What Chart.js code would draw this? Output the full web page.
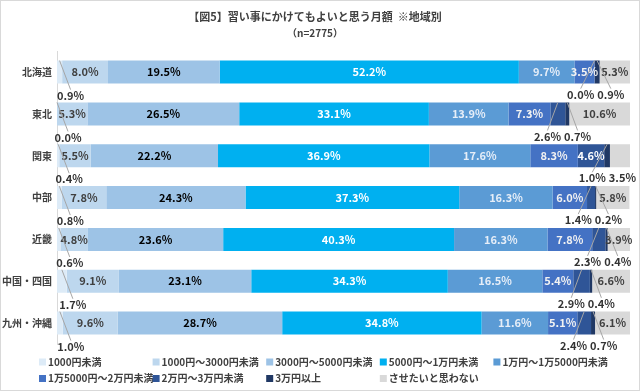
<!DOCTYPE html>
<html>
<head>
<meta charset="utf-8">
<script src="https://cdn.jsdelivr.net/npm/chart.js@4.4.1/dist/chart.umd.min.js"></script>
<style>
  body { margin: 0; background: #fff; }
  #wrap { width: 640px; height: 391px; }
</style>
</head>
<body>
<div id="wrap"><canvas id="chart"></canvas></div>
<script>
// regions (y axis)
var regions = ['北海道', '東北', '関東', '中部', '近畿', '中国・四国', '九州・沖縄'];

// answer categories
var seriesNames = ['1000円未満', '1000円～3000円未満', '3000円～5000円未満', '5000円～1万円未満',
  '1万円～1万5000円未満', '1万5000円～2万円未満', '2万円～3万円未満', '3万円以上', 'させたいと思わない'];

// percentages per region
var under1000 = [0.9, 0.0, 0.4, 0.8, 0.6, 1.7, 1.0];
var from1000to3000 = [8.0, 5.3, 5.5, 7.8, 4.8, 9.1, 9.6];
var from3000to5000 = [19.5, 26.5, 22.2, 24.3, 23.6, 23.1, 28.7];
var from5000to10000 = [52.2, 33.1, 36.9, 37.3, 40.3, 34.3, 34.8];
var from10000to15000 = [9.7, 13.9, 17.6, 16.3, 16.3, 16.5, 11.6];
var from15000to20000 = [3.5, 7.3, 8.3, 6.0, 7.8, 5.4, 5.1];
var from20000to30000 = [0.0, 2.6, 4.6, 1.4, 2.3, 2.9, 2.4];
var over30000 = [0.9, 0.7, 1.0, 0.2, 0.4, 0.4, 0.7];
var notWant = [5.3, 10.6, 3.5, 5.8, 3.9, 6.6, 6.1];

var seriesValues = [under1000, from1000to3000, from3000to5000, from5000to10000,
  from10000to15000, from15000to20000, from20000to30000, over30000, notWant];

// styles
var colors = ['#DDEBF7', '#BDD7EE', '#9DC3E6', '#00B0F0', '#5B9BD5', '#4472C4', '#2F5597', '#203864', '#D9D9D9'];
var insideColors = ['#404040', '#404040', '#000000', '#ffffff', '#e6eef8', '#f2f2f2', '#ffffff', '#ffffff', '#404040'];

Chart.defaults.font.family = '"Noto Sans CJK JP", "Noto Sans", sans-serif';
Chart.defaults.color = '#404040';

var FONT = '"Noto Sans CJK JP", "Noto Sans", sans-serif';

// frame + white background
var framePlugin = {
  id: 'frame',
  beforeDraw: function(chart) {
    var ctx = chart.ctx;
    ctx.save();
    ctx.fillStyle = '#fff';
    ctx.fillRect(0, 0, chart.width, chart.height);
    ctx.strokeStyle = '#d9d9d9';
    ctx.lineWidth = 1;
    ctx.strokeRect(0.5, 0.5, chart.width - 1, chart.height - 1);
    ctx.restore();
  }
};

// percentage labels, small ones go under the bar with a leader line
var labelPlugin = {
  id: 'segLabels',
  afterDatasetsDraw: function(chart) {
    var ctx = chart.ctx;
    var n = chart.data.datasets.length;
    ctx.save();
    ctx.font = 'bold 11px ' + FONT;
    ctx.textBaseline = 'middle';
    ctx.textAlign = 'center';
    for (var i = 0; i < regions.length; i++) {
      var group = [];
      var first = null;
      for (var d = 0; d < n; d++) {
        var el = chart.getDatasetMeta(d).data[i];
        var v = chart.data.datasets[d].data[i];
        var txt = v.toFixed(1) + '%';
        var cx = (el.x + el.base) / 2;
        var item = { cx: cx, el: el, txt: txt, w: ctx.measureText(txt).width };
        if (d === 0) {
          first = item;
        } else if (v < 3 || (d === n - 1 && v < 3.8)) {
          group.push(item);
        } else {
          ctx.fillStyle = insideColors[d];
          ctx.fillText(txt, cx, el.y);
        }
      }
      var drawOut = function(it, lx, ly) {
        var top = it.el.y - it.el.height / 2;
        if (Math.abs(lx - it.cx) > 5) {
          ctx.strokeStyle = '#a6a6a6';
          ctx.lineWidth = 1;
          ctx.beginPath();
          ctx.moveTo(it.cx, top);
          ctx.lineTo(lx, ly - 6);
          ctx.stroke();
        }
        ctx.fillStyle = '#333';
        ctx.fillText(it.txt, lx, ly);
      };
      if (first) {
        drawOut(first, first.cx + 11, first.el.y + first.el.height / 2 + 12);
      }
      if (group.length) {
        var gap = 3;
        var total = 0, mean = 0;
        group.forEach(function(g) { total += g.w; mean += g.cx; });
        total += gap * (group.length - 1);
        mean /= group.length;
        var start = mean - total / 2;
        if (start + total > chart.width - 4) start = chart.width - 4 - total;
        group.forEach(function(g) {
          drawOut(g, start + g.w / 2, g.el.y + g.el.height / 2 + 11);
          start += g.w + gap;
        });
      }
    }
    ctx.restore();
  }
};

// legend laid out on a 5 column grid
var legendPlugin = {
  id: 'gridLegend',
  afterDraw: function(chart) {
    var ctx = chart.ctx;
    ctx.save();
    ctx.font = 'bold 10px ' + FONT;
    ctx.textBaseline = 'middle';
    ctx.textAlign = 'left';
    chart.data.datasets.forEach(function(ds, d) {
      var col = d % 5, row = Math.floor(d / 5);
      var x = 39 + col * 113.6, y = 362 + row * 16.5;
      ctx.fillStyle = ds.backgroundColor;
      ctx.fillRect(x, y - 3.5, 7, 7);
      ctx.fillStyle = '#404040';
      ctx.fillText(ds.label, x + 9, y);
    });
    ctx.restore();
  }
};

var datasets = seriesNames.map(function(name, k) {
  return {
    label: name,
    data: seriesValues[k],
    backgroundColor: colors[k],
    borderWidth: 0,
    barPercentage: 0.55,
    categoryPercentage: 1.0
  };
});

new Chart(document.getElementById('chart'), {
  type: 'bar',
  data: { labels: regions, datasets: datasets },
  options: {
    indexAxis: 'y',
    responsive: true,
    maintainAspectRatio: false,
    animation: false,
    layout: { padding: { left: 0, right: 10, top: 0, bottom: 47 } },
    scales: {
      x: { stacked: true, min: 0, max: 100, display: false },
      y: {
        stacked: true,
        grid: { display: false, drawTicks: false },
        border: { color: '#d9d9d9' },
        ticks: { padding: 5, font: { size: 10, weight: 'bold' }, color: '#404040' },
        afterFit: function(scale) { scale.width = 57; }
      }
    },
    plugins: {
      legend: { display: false },
      tooltip: { enabled: false },
      title: {
        display: true,
        text: '【図5】習い事にかけてもよいと思う月額  ※地域別',
        color: '#404040',
        font: { size: 11, weight: 'bold' },
        padding: { top: 10, bottom: 2 }
      },
      subtitle: {
        display: true,
        text: '（n=2775）',
        color: '#404040',
        font: { size: 10, weight: 'bold' },
        padding: { top: 2, bottom: 12 }
      }
    }
  },
  plugins: [framePlugin, labelPlugin, legendPlugin]
});
</script>
</body>
</html>
